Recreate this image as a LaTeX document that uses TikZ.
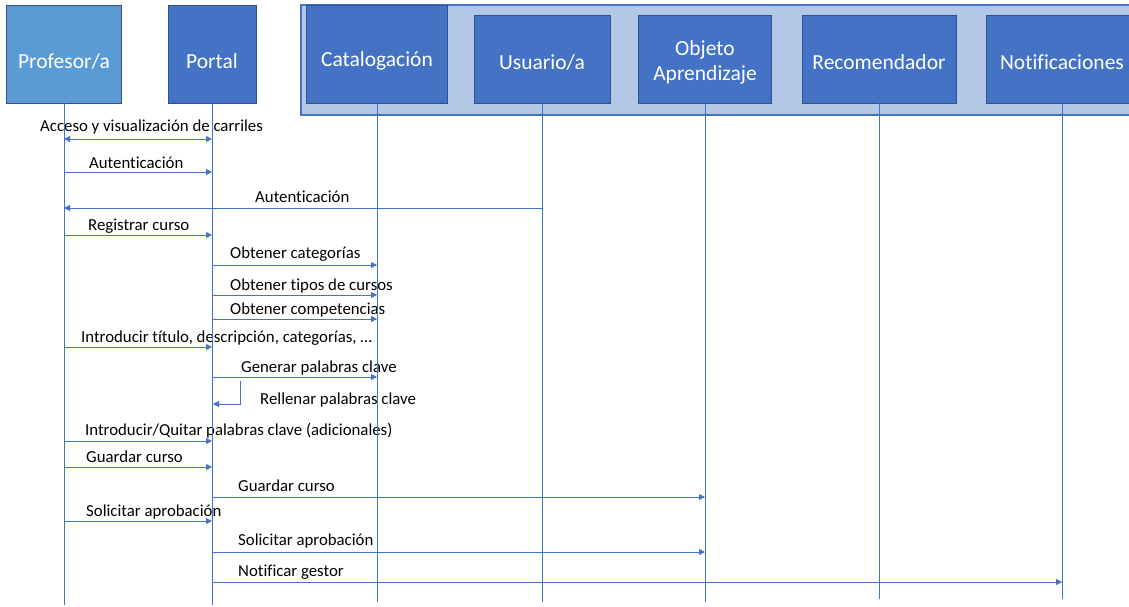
\documentclass[tikz,border=0pt]{standalone}
\usepackage{fontspec}
\setmainfont{Carlito}[Ligatures=NoCommon]
\usetikzlibrary{arrows.meta}
\definecolor{lane}{HTML}{4472C4}
\definecolor{profcol}{HTML}{5B9BD5}
\definecolor{grp}{HTML}{B4C7E7}
\definecolor{edgecol}{HTML}{2F528F}
\begin{document}
\begin{tikzpicture}[x=1pt,y=-1pt,
 actor/.style={draw=edgecol, line width=0.8pt, fill=lane, inner sep=0pt},
 atext/.style={text=white, font=\fontsize{21.5}{25}\selectfont, align=center, inner sep=0pt},
 life/.style={draw=lane, line width=1pt},
 msg/.style={draw=lane, line width=1pt, -{Triangle[length=6pt,width=6pt]}},
 dmsg/.style={draw=lane, line width=1pt, {Triangle[length=6pt,width=6pt]}-{Triangle[length=6pt,width=6pt]}},
 lbl/.style={anchor=west, inner sep=0pt, font=\fontsize{16.8}{19}\selectfont}]
\useasboundingbox (0,0) rectangle (1129,606);
% group background
\draw[draw=lane, fill=grp, line width=1.3pt] (301,5) rectangle (1140,115);
% actors
\node[actor, fill=profcol, minimum width=115, minimum height=98] (prof) at (64,54) {};
\node[actor, minimum width=88, minimum height=98] (portal) at (212,54) {};
\node[actor, minimum width=141, minimum height=98] (cat) at (377,54) {};
\node[actor, minimum width=136, minimum height=88] (usr) at (542,59) {};
\node[actor, minimum width=133, minimum height=88] (obj) at (705,59) {};
\node[actor, minimum width=154, minimum height=88] (rec) at (879,59) {};
\node[actor, minimum width=152, minimum height=88] (notif) at (1062,59) {};
\node[atext] (proft) at ([yshift=-7pt]prof.center) {Profesor/a};
\node[atext] (portalt) at ([yshift=-7pt]portal.center) {Portal};
\node[atext] (catt) at ([yshift=-7pt]cat.center) {Catalogación};
\node[atext] (usrt) at ([yshift=-3pt]usr.center) {Usuario/a};
\node[atext] (objt) at ([yshift=-3pt]obj.center) {Objeto\\Aprendizaje};
\node[atext] (rect) at ([yshift=-3pt]rec.center) {Recomendador};
\node[atext] (notift) at ([yshift=-3pt]notif.center) {Notificaciones};
% labels
\node[lbl] (t1) at (40,127) {Acceso y visualización de carriles};
\node[lbl] (t2) at (89,163) {Autenticación};
\node[lbl] (t3) at (255,197) {Autenticación};
\node[lbl] (t4) at (88,226) {Registrar curso};
\node[lbl] (t5) at (230,254) {Obtener categorías};
\node[lbl] (t6) at (230,286) {Obtener tipos de cursos};
\node[lbl] (t7) at (230,310) {Obtener competencias};
\node[lbl] (t8) at (81,338) {Introducir título, descripción, categorías, …};
\node[lbl] (t9) at (241,368) {Generar palabras clave};
\node[lbl] (t10) at (260,400) {Rellenar palabras clave};
\node[lbl] (t11) at (85,431) {Introducir/Quitar palabras clave (adicionales)};
\node[lbl] (t12) at (86,457) {Guardar curso};
\node[lbl] (t13) at (238,486) {Guardar curso};
\node[lbl] (t14) at (86,512) {Solicitar aprobación};
\node[lbl] (t15) at (238,541) {Solicitar aprobación};
\node[lbl] (t16) at (238,572) {Notificar gestor};
% lifelines
\coordinate (profend) at (64,605);
\coordinate (portalend) at (212,605);
\coordinate (catend) at (377,602);
\coordinate (usrend) at (542,602);
\coordinate (objend) at (705,602);
\coordinate (recend) at (879,599);
\coordinate (notifend) at (1062,599);
\draw[life] (prof.south) -- (profend);
\draw[life] (portal.south) -- (portalend);
\draw[life] (cat.south) -- (catend);
\draw[life] (usr.south) -- (usrend);
\draw[life] (obj.south) -- (objend);
\draw[life] (rec.south) -- (recend);
\draw[life] (notif.south) -- (notifend);
% message end points
\coordinate (a1) at (64,139);  \coordinate (b1) at (212,139);
\coordinate (a2) at (64,172);  \coordinate (b2) at (212,172);
\coordinate (a3) at (542,208); \coordinate (b3) at (64,208);
\coordinate (a4) at (64,235);  \coordinate (b4) at (212,235);
\coordinate (a5) at (212,265); \coordinate (b5) at (377,265);
\coordinate (a6) at (212,295); \coordinate (b6) at (377,295);
\coordinate (a7) at (212,319); \coordinate (b7) at (377,319);
\coordinate (a8) at (64,347);  \coordinate (b8) at (212,347);
\coordinate (a9) at (212,377); \coordinate (b9) at (377,377);
\coordinate (a10) at (240,381); \coordinate (m10) at (240,404); \coordinate (b10) at (213,404);
\coordinate (a11) at (64,441); \coordinate (b11) at (212,441);
\coordinate (a12) at (64,467); \coordinate (b12) at (212,467);
\coordinate (a13) at (212,497); \coordinate (b13) at (705,497);
\coordinate (a14) at (64,521); \coordinate (b14) at (212,521);
\coordinate (a15) at (212,552); \coordinate (b15) at (705,552);
\coordinate (a16) at (212,582); \coordinate (b16) at (1062,582);
% messages
\draw[dmsg] (a1) -- (b1);
\draw[msg] (a2) -- (b2);
\draw[msg] (a3) -- (b3);
\draw[msg] (a4) -- (b4);
\draw[msg] (a5) -- (b5);
\draw[msg] (a6) -- (b6);
\draw[msg] (a7) -- (b7);
\draw[msg] (a8) -- (b8);
\draw[msg] (a9) -- (b9);
\draw[msg] (a10) -- (m10) -- (b10);
\draw[msg] (a11) -- (b11);
\draw[msg] (a12) -- (b12);
\draw[msg] (a13) -- (b13);
\draw[msg] (a14) -- (b14);
\draw[msg] (a15) -- (b15);
\draw[msg] (a16) -- (b16);
\end{tikzpicture}
\end{document}
